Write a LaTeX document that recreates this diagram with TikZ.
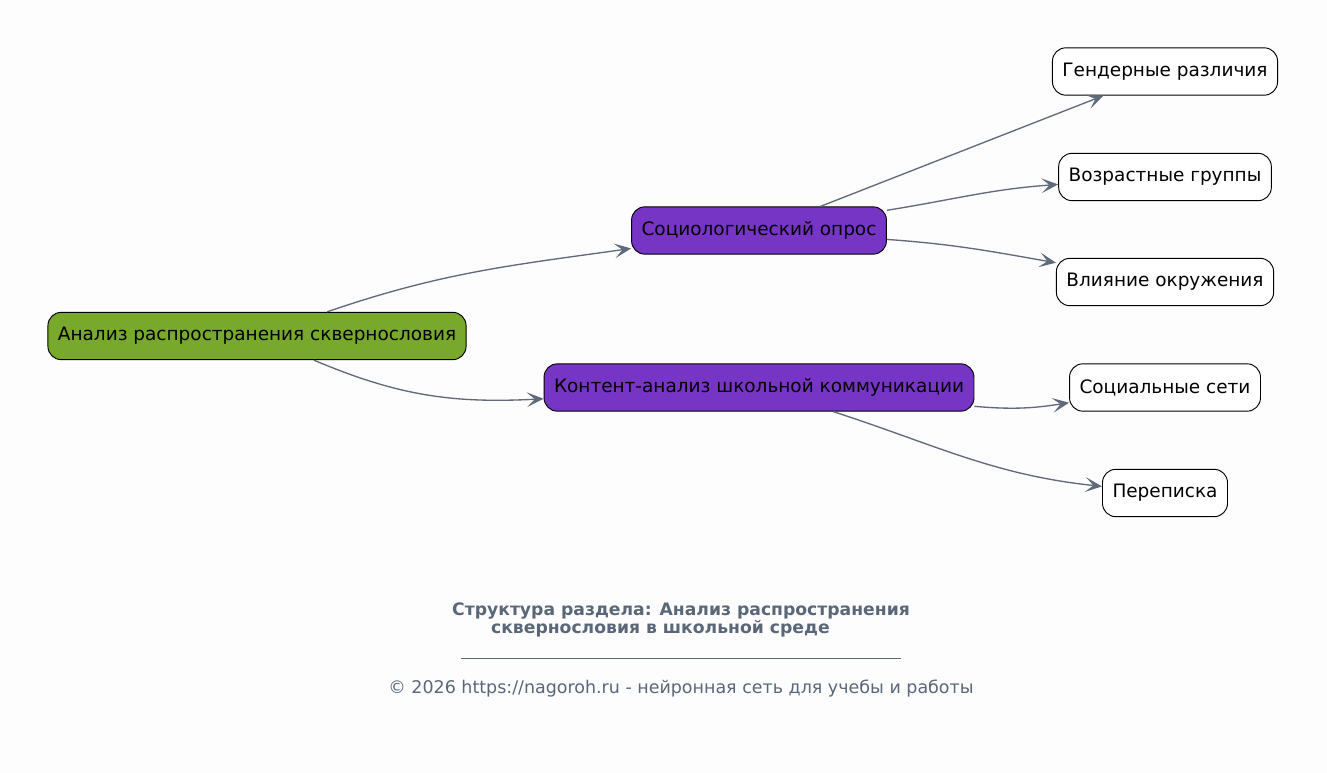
\documentclass[tikz,border=0pt]{standalone}
\usepackage{fontspec}
\setmainfont{DejaVu Sans}
\usetikzlibrary{arrows.meta}
\definecolor{rootgreen}{HTML}{78A92C}
\definecolor{branchviolet}{HTML}{7635C5}
\definecolor{edgegray}{HTML}{5F6B7A}
\definecolor{titlegray}{HTML}{5A6778}
\definecolor{bgwhite}{HTML}{FDFDFD}
\tikzset{
  box/.style={draw=black, rounded corners=10pt, minimum height=35.5pt,
    inner xsep=7.5pt, line width=0.7pt, font=\fontsize{13.85}{15}\selectfont},
  rootbox/.style={box, fill=rootgreen},
  subbox/.style={box, fill=branchviolet},
  leafbox/.style={box, fill=white},
  link/.style={draw=edgegray, line width=1pt,
    -{Stealth[length=12.5pt,width=11pt,inset=6pt]}}
}

\begin{document}
\begin{tikzpicture}[x=0.75pt,y=0.75pt]
    \fill[bgwhite] (0,0) rectangle (1327,-773);% page background
    \useasboundingbox (0,0) rectangle (1327,-773);
    % root and the two branches
    \node[rootbox] (root) at (257,-336) {Анализ распространения сквернословия};
    \node[subbox] (survey) at (759,-230.5) {Социологический опрос};
    \node[subbox] (content) at (759,-387.5) {Контент-анализ школьной коммуникации};
    % leaves
    \node[leafbox] (gender) at (1165,-71.5) {Гендерные различия};
    \node[leafbox] (age) at (1165,-177) {Возрастные группы};
    \node[leafbox] (milieu) at (1165,-282) {Влияние окружения};
    \node[leafbox] (social) at (1165,-387.5) {Социальные сети};
    \node[leafbox] (letters) at (1165,-493) {Переписка};
    % connectors
    \draw[link] (root) to[out=19,in=188] (survey);
    \draw[link] (root) to[out=-23,in=183] (content);
    \draw[link] (survey) -- (gender);
    \draw[link] (survey) to[out=9,in=184] (age);
    \draw[link] (survey) to[out=-4,in=170] (milieu);
    \draw[link] (content) to[out=-5,in=189] (social);
    \draw[link] (content) to[out=-18,in=174] (letters);
    % caption
    \node[text=titlegray, align=center, font=\bfseries\fontsize{12.9}{13.5}\selectfont]
        (caption) at (681,-620) {Структура раздела: Анализ распространения\\
        сквернословия в школьной среде\hspace*{2.4em}};
    \draw[titlegray, line width=0.5pt] (461,-658) -- (901,-658);% separator
    \node[text=titlegray, font=\fontsize{13.1}{15}\selectfont]
        (footer) at (681,-689) {© 2026 https://nagoroh.ru - нейронная сеть для учебы и работы};
\end{tikzpicture}
\end{document}
